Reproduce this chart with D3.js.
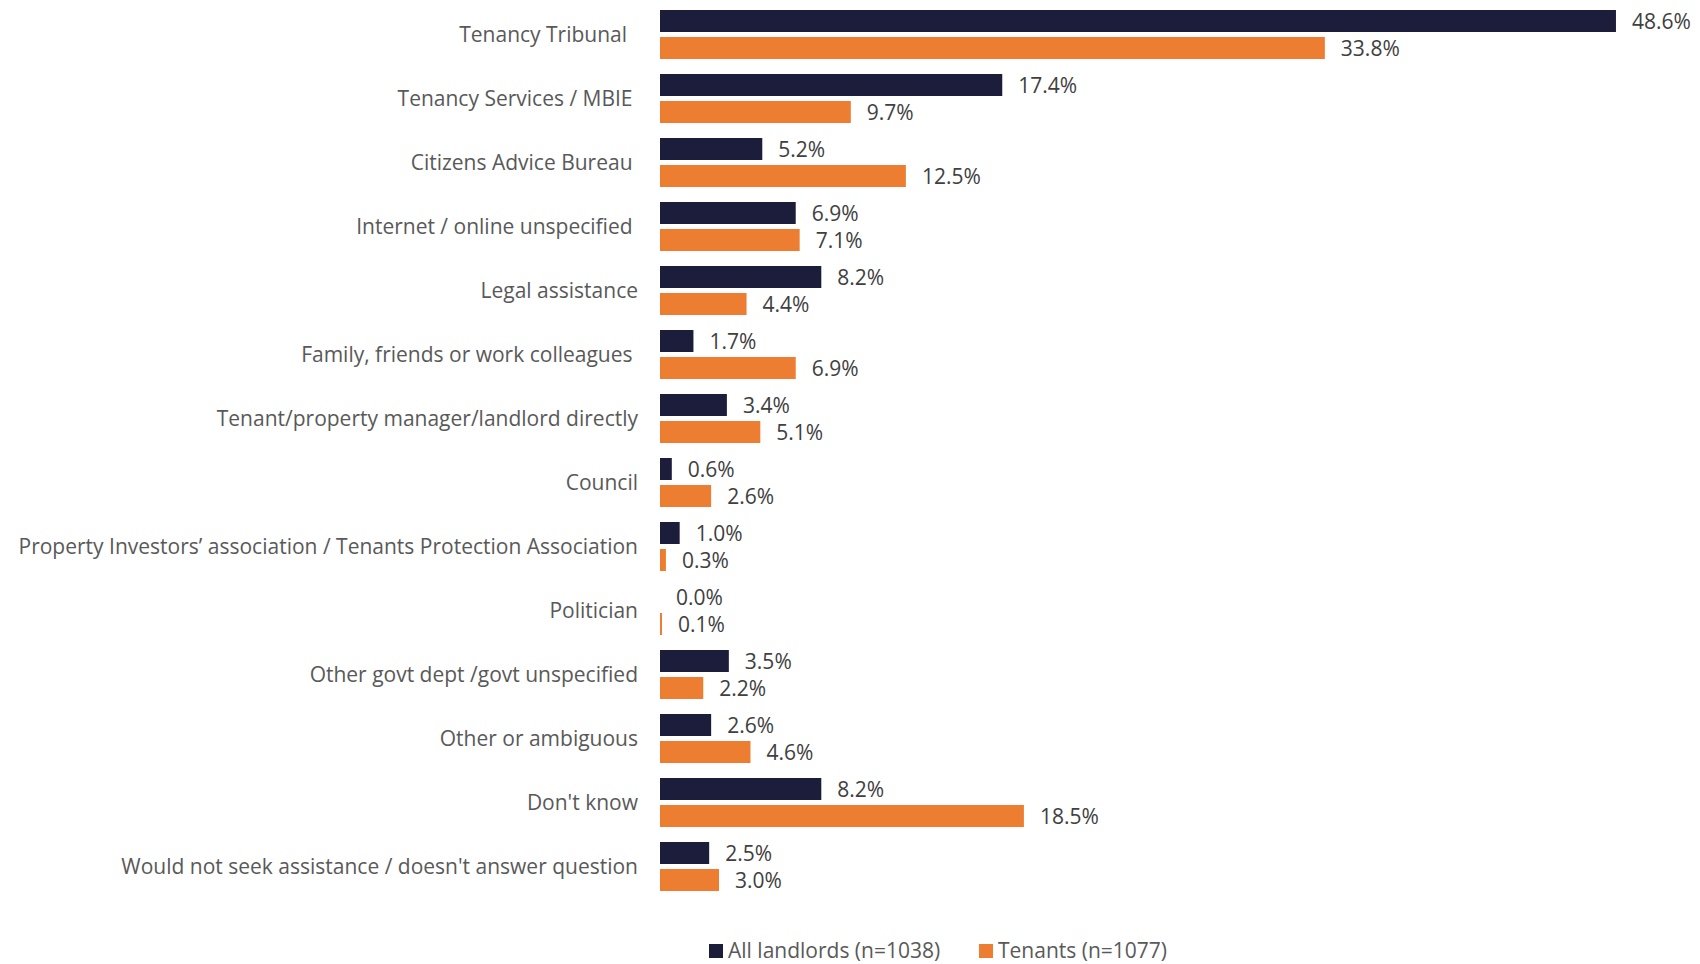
<!DOCTYPE html>
<html>
<head>
<meta charset="utf-8">
<script src="https://cdn.jsdelivr.net/npm/d3@7"></script>
<style>
  html, body { margin: 0; padding: 0; background: #ffffff; }
  svg { display: block; }
  text { font-family: "Open Sans", "Noto Sans", sans-serif; }
  .cat { white-space: pre; }
</style>
</head>
<body>
<svg id="chart" width="1700" height="964"></svg>
<script>
// Where people would go for help with a tenancy problem (% of respondents)
const categories = [
  "Tenancy Tribunal  ",
  "Tenancy Services / MBIE ",
  "Citizens Advice Bureau ",
  "Internet / online unspecified ",
  "Legal assistance",
  "Family, friends or work colleagues ",
  "Tenant/property manager/landlord directly",
  "Council",
  "Property Investors\u2019 association / Tenants Protection Association",
  "Politician",
  "Other govt dept /govt unspecified",
  "Other or ambiguous",
  "Don't know",
  "Would not seek assistance / doesn't answer question"
];
const landlords = [48.6, 17.4, 5.2, 6.9, 8.2, 1.7, 3.4, 0.6, 1.0, 0.0, 3.5, 2.6, 8.2, 2.5];
const tenants   = [33.8, 9.7, 12.5, 7.1, 4.4, 6.9, 5.1, 2.6, 0.3, 0.1, 2.2, 4.6, 18.5, 3.0];
const seriesNames = ["All landlords (n=1038)", "Tenants (n=1077)"];
const seriesColors = ["#1c1c3b", "#ed7d31"];

const svg = d3.select("#chart");
const fontSize = 21;

const x = d3.scaleLinear().domain([0, 50]).range([660, 1643.5]);
const y = d3.scaleBand().domain(categories).range([10, 891]).paddingInner(15 / 64).paddingOuter(0);
const ySub = d3.scaleBand().domain([0, 1]).range([0, y.bandwidth()]).paddingInner(5 / 27);

const rows = categories.map((c, i) => ({ cat: c, values: [landlords[i], tenants[i]] }));

// category labels
svg.append("g").selectAll("text").data(rows).join("text")
  .attr("class", "cat")
  .attr("x", 638)
  .attr("y", d => y(d.cat) + y.bandwidth() / 2)
  .attr("dy", "0.38em")
  .attr("text-anchor", "end")
  .attr("font-size", fontSize)
  .attr("fill", "#595959")
  .text(d => d.cat);

const groups = svg.append("g").selectAll("g").data(rows).join("g")
  .attr("transform", d => `translate(0,${y(d.cat)})`);

const cells = groups.selectAll("g").data(d => d.values.map((v, s) => ({ v, s }))).join("g");

cells.append("rect")
  .attr("x", x(0))
  .attr("y", d => ySub(d.s))
  .attr("width", d => x(d.v) - x(0))
  .attr("height", ySub.bandwidth())
  .attr("fill", d => seriesColors[d.s]);

cells.append("text")
  .attr("x", d => x(d.v) + 16)
  .attr("y", d => ySub(d.s) + ySub.bandwidth() / 2)
  .attr("dy", "0.4em")
  .attr("font-size", fontSize)
  .attr("fill", "#404040")
  .text(d => d.v.toFixed(1) + "%");

// legend
const legendX = [709, 979];
const legend = svg.append("g").selectAll("g").data(seriesNames).join("g")
  .attr("transform", (d, i) => `translate(${legendX[i]},944)`);
legend.append("rect").attr("width", 14).attr("height", 14)
  .attr("fill", (d, i) => seriesColors[i]);
legend.append("text").attr("x", 19).attr("y", 7).attr("dy", "0.33em")
  .attr("font-size", fontSize).attr("fill", "#595959").text(d => d);
</script>
</body>
</html>
